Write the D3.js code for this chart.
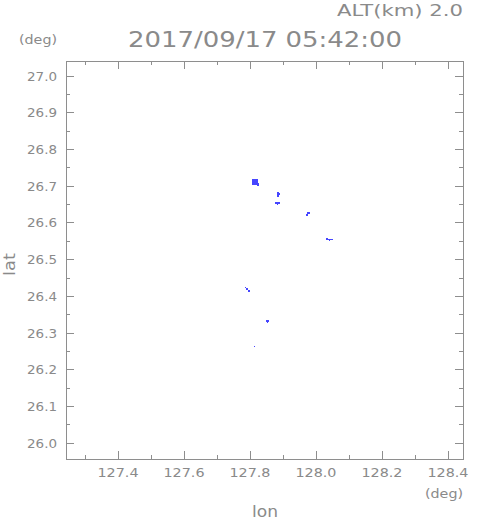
<!DOCTYPE html>
<html lang="en">
<head>
    <meta charset="UTF-8">
    <script type="text/javascript" src="https://cdn.jsdelivr.net/npm/d3@7/dist/d3.min.js"></script>
    <title>ALT 2.0 km</title>
    <style>
        body { margin: 0; background: #fff; }
        text { font-family: "DejaVu Sans", sans-serif; fill: #8a8a8a; }
    </style>
</head>
<body>
</body>
<script>

    // axis ranges and tick labels
    let lonRange = [127.2424, 128.4455];
    let latRange = [25.9556, 27.040];
    let lonTicks = [127.4, 127.6, 127.8, 128.0, 128.2, 128.4];
    let lonMinor = [127.3, 127.5, 127.7, 127.9, 128.1, 128.3];
    let latTicks = [26.0, 26.1, 26.2, 26.3, 26.4, 26.5, 26.6, 26.7, 26.8, 26.9, 27.0];
    let latMinor = [26.05, 26.15, 26.25, 26.35, 26.45, 26.55, 26.65, 26.75, 26.85, 26.95];

    // echo cells: [lon0, lon1, lat0, lat1]
    let echo1 = [[127.806, 127.824, 26.702, 26.718], [127.821, 127.827, 26.699, 26.708]];
    let echo2 = [[127.882, 127.888, 26.670, 26.683], [127.888, 127.891, 26.675, 26.680]];
    let echo3 = [[127.876, 127.891, 26.650, 26.656], [127.882, 127.885, 26.647, 26.650]];
    let echo4 = [[127.973, 127.982, 26.623, 26.629], [127.970, 127.976, 26.618, 26.623]];
    let echo5 = [[128.030, 128.036, 26.552, 26.558], [128.036, 128.052, 26.552, 26.555], [128.039, 128.042, 26.550, 26.552]];
    let echo6 = [[127.785, 127.788, 26.421, 26.424], [127.788, 127.794, 26.416, 26.421], [127.794, 127.800, 26.411, 26.416]];
    let echo7 = [[127.848, 127.858, 26.329, 26.334], [127.852, 127.855, 26.326, 26.329]];
    let echo8 = [[127.812, 127.815, 26.261, 26.263]];
    let echoes = [echo1, echo2, echo3, echo4, echo5, echo6, echo7, echo8];

    let width = 491, height = 521;
    let mLeft = 66, mRight = 463, mTop = 61, mBottom = 459;
    let frameColor = "#8e8e8e";

    let svg = d3.select("body")
        .append("svg")
        .attr("width", width)
        .attr("height", height);

    let x = d3.scaleLinear().domain(lonRange).range([mLeft, mRight]);
    let y = d3.scaleLinear().domain(latRange).range([mBottom, mTop]);

    // echoes
    svg.append("g")
        .selectAll("rect")
        .data(echoes.flat())
        .join("rect")
        .attr("x", d => x(d[0]))
        .attr("y", d => y(d[3]))
        .attr("width", d => Math.max(1, x(d[1]) - x(d[0])))
        .attr("height", d => Math.max(1, y(d[2]) - y(d[3])))
        .attr("fill", "#4646ff")
        .attr("shape-rendering", "crispEdges");

    // frame
    svg.append("rect")
        .attr("x", mLeft + 0.5)
        .attr("y", mTop + 0.5)
        .attr("width", mRight - mLeft)
        .attr("height", mBottom - mTop)
        .attr("fill", "none")
        .attr("stroke", frameColor)
        .attr("stroke-width", 1);

    // inward ticks on all four sides
    function tickLines(values, len, isLon) {
        let g = svg.append("g").attr("stroke", frameColor).attr("stroke-width", 1);
        values.forEach(v => {
            if (isLon) {
                let px = Math.round(x(v)) + 0.5;
                g.append("line").attr("x1", px).attr("x2", px).attr("y1", mBottom).attr("y2", mBottom - len);
                g.append("line").attr("x1", px).attr("x2", px).attr("y1", mTop).attr("y2", mTop + len);
            } else {
                let py = Math.round(y(v)) + 0.5;
                g.append("line").attr("y1", py).attr("y2", py).attr("x1", mLeft).attr("x2", mLeft + len);
                g.append("line").attr("y1", py).attr("y2", py).attr("x1", mRight).attr("x2", mRight - len);
            }
        });
    }
    tickLines(lonTicks, 8, true);
    tickLines(lonMinor, 4, true);
    tickLines(latTicks, 8, false);
    tickLines(latMinor, 4, false);

    // tick labels
    svg.append("g")
        .selectAll("text")
        .data(latTicks)
        .join("text")
        .attr("x", 27)
        .attr("y", d => y(d) + 5)
        .attr("font-size", 13)
        .attr("textLength", 30)
        .attr("lengthAdjust", "spacingAndGlyphs")
        .text(d => d.toFixed(1));

    svg.append("g")
        .selectAll("text")
        .data(lonTicks)
        .join("text")
        .attr("x", d => x(d) - 20.5)
        .attr("y", 477)
        .attr("font-size", 13)
        .attr("textLength", 41)
        .attr("lengthAdjust", "spacingAndGlyphs")
        .text(d => d.toFixed(1));

    // titles
    function label(txt, px, py, size, len) {
        return svg.append("text")
            .attr("x", px)
            .attr("y", py)
            .attr("font-size", size)
            .attr("textLength", len)
            .attr("lengthAdjust", "spacingAndGlyphs")
            .text(txt);
    }
    label("ALT(km) 2.0", 337, 16, 16.5, 126);
    label("2017/09/17 05:42:00", 128, 47, 21, 274);
    label("(deg)", 19, 44, 13, 38);
    label("(deg)", 425, 498, 13, 38);
    label("lon", 252, 517, 16, 26);

    svg.append("text")
        .attr("transform", "translate(15,276) rotate(-90)")
        .attr("font-size", 15)
        .attr("textLength", 23)
        .attr("lengthAdjust", "spacingAndGlyphs")
        .text("lat");

</script>
</html>
